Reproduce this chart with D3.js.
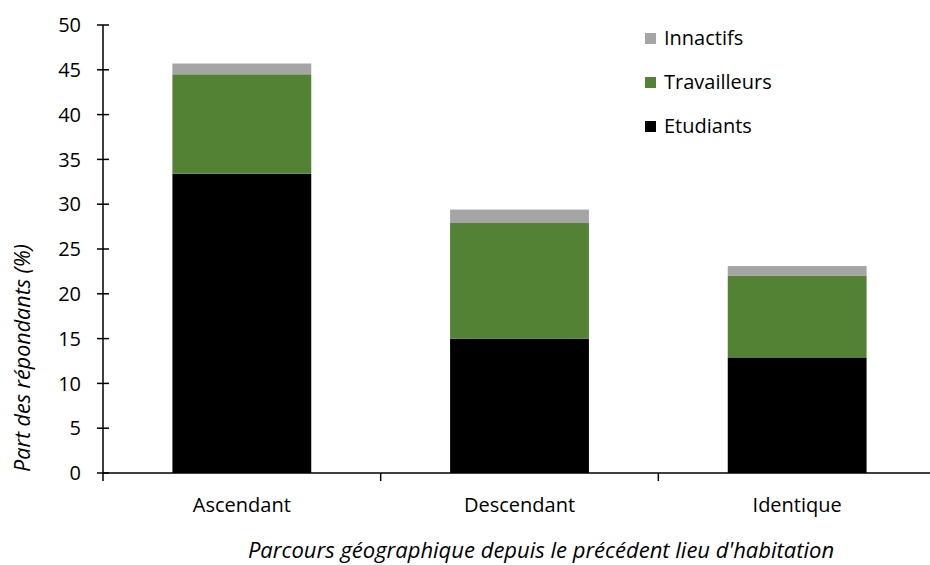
<!DOCTYPE html>
<html><head><meta charset="utf-8">
<script src="https://cdn.jsdelivr.net/npm/d3@7"></script>
<style>body{margin:0;background:#fff}svg{display:block}</style>
</head><body>
<script>
const categories = ["Ascendant", "Descendant", "Identique"];
const seriesNames = ["Etudiants", "Travailleurs", "Innactifs"];
const etudiants = [33.4, 15.0, 12.9];
const travailleurs = [11.1, 12.9, 9.1];
const innactifs = [1.2, 1.5, 1.1];
const yTicks = [0, 5, 10, 15, 20, 25, 30, 35, 40, 45, 50];
const colors = {Etudiants: "#000000", Travailleurs: "#548235", Innactifs: "#A5A5A5"};

const W = 930, H = 565;
const font = "'Open Sans', Lato, sans-serif";
const svg = d3.select("body").append("svg").attr("width", W).attr("height", H);

const x = d3.scaleBand().domain(categories).range([103, 936]).paddingInner(0).paddingOuter(0);
const y = d3.scaleLinear().domain([0, 50]).range([473, 25]);

const rows = categories.map((c, i) => ({cat: c, Etudiants: etudiants[i], Travailleurs: travailleurs[i], Innactifs: innactifs[i]}));
const stack = d3.stack().keys(seriesNames)(rows);

const bw = x.bandwidth() * 0.5;
svg.append("g").selectAll("g").data(stack).join("g")
  .attr("fill", d => colors[d.key])
  .selectAll("rect").data(d => d).join("rect")
  .attr("x", d => x(d.data.cat) + (x.bandwidth() - bw) / 2)
  .attr("width", bw)
  .attr("y", d => y(d[1]))
  .attr("height", d => y(d[0]) - y(d[1]));

// y axis
const ya = svg.append("g").attr("transform", "translate(103,0)");
ya.append("line").attr("y1", y(0)).attr("y2", y(50)).attr("stroke", "#000").attr("stroke-width", 1.5);
ya.selectAll("line.t").data(yTicks).join("line").attr("class", "t")
  .attr("x1", -6).attr("x2", 6).attr("y1", d => y(d)).attr("y2", d => y(d)).attr("stroke", "#000").attr("stroke-width", 1.5);
ya.selectAll("text").data(yTicks).join("text")
  .attr("x", -22).attr("y", d => y(d)).attr("dy", "0.36em").attr("text-anchor", "end")
  .attr("font-family", font).attr("font-size", 20).attr("fill", "#000").text(d => d);

// x axis
const xa = svg.append("g");
xa.append("line").attr("x1", 103).attr("x2", 936).attr("y1", y(0)).attr("y2", y(0)).attr("stroke", "#000").attr("stroke-width", 1.5);
const bounds = categories.map(c => x(c));
xa.selectAll("line.t").data(bounds).join("line").attr("class", "t")
  .attr("x1", d => d).attr("x2", d => d).attr("y1", y(0)).attr("y2", y(0) + 8).attr("stroke", "#000").attr("stroke-width", 1.5);
xa.selectAll("text").data(categories).join("text")
  .attr("x", d => x(d) + x.bandwidth() / 2).attr("y", 512).attr("text-anchor", "middle")
  .attr("font-family", font).attr("font-size", 20).attr("fill", "#000").text(d => d);

// axis titles
svg.append("text").attr("transform", "translate(30,358) rotate(-90)").attr("text-anchor", "middle")
  .attr("font-family", font).attr("font-size", 21.5).attr("font-style", "italic").attr("fill", "#000")
  .text("Part des répondants (%)");
svg.append("text").attr("x", 541).attr("y", 558).attr("text-anchor", "middle")
  .attr("font-family", font).attr("font-size", 22).attr("font-style", "italic").attr("fill", "#000")
  .text("Parcours géographique depuis le précédent lieu d'habitation");

// legend
const legendItems = ["Innactifs", "Travailleurs", "Etudiants"];
const lg = svg.append("g").selectAll("g").data(legendItems).join("g")
  .attr("transform", (d, i) => `translate(645,${38 + i * 44})`);
lg.append("rect").attr("x", 0).attr("y", -5).attr("width", 11).attr("height", 11).attr("fill", d => colors[d]);
lg.append("text").attr("x", 19).attr("y", 0).attr("dy", "0.36em")
  .attr("font-family", font).attr("font-size", 20).attr("fill", "#000").text(d => d);
</script>
</body></html>
